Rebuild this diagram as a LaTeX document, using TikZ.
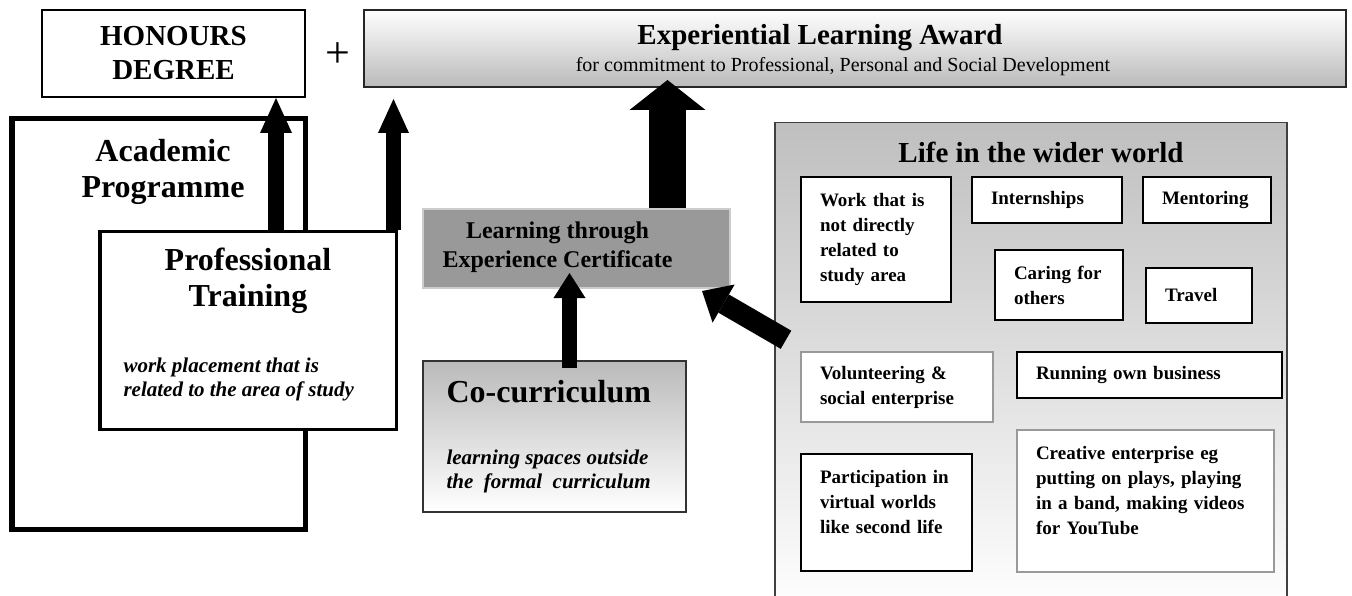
\documentclass[tikz,border=0pt]{standalone}
\usepackage{fontspec}
\setmainfont{Liberation Serif}
\usetikzlibrary{positioning,arrows.meta,calc}

\begin{document}
\begin{tikzpicture}[x=1pt,y=-1pt,
  box/.style={draw, line width=2pt, fill=white, inner sep=0pt, anchor=north west},
  item/.style={box, align=left, inner xsep=19pt, inner ysep=0pt, font=\fontsize{19}{25}\selectfont\bfseries},
  pale/.style={draw=black!40},
  big/.style={font=\fontsize{32}{36}\selectfont\bfseries, align=center},
  head/.style={font=\fontsize{29}{34}\selectfont\bfseries},
  note/.style={font=\fontsize{21}{24}\selectfont\bfseries\itshape, align=left, anchor=west},
  fatarrow/.style n args={3}{draw, line width=#1, -{Triangle[width=#2, length=#3, line width=0pt]}}
]
\useasboundingbox (0,0) rectangle (1352,596);

\node[box, minimum width=263pt, minimum height=87pt, head, align=center] at (41,9) (hon) {HONOURS\\ DEGREE};
\node[font=\fontsize{44}{44}\selectfont] at (338,55) (plus) {+};

\node[box, draw=black!85, top color=white, bottom color=black!27, minimum width=982pt, minimum height=77pt] at (363,9) (award) {};
\node[head, anchor=base] at (820,45) (awardtxt) {Experiential Learning Award};
\node[font=\fontsize{20}{24}\selectfont, anchor=base] at (843,72) (awardsub) {for commitment to Professional, Personal and Social Development};

\node[box, line width=5.5pt, fill=none, minimum width=293.5pt, minimum height=410.5pt] at (9,116) (acad) {};
\node[big] at (163,172) (acadtxt) {Academic\\ Programme};

\node[box, line width=3.5pt, minimum width=296.5pt, minimum height=197.5pt] at (98,230) (prof) {};
\node[big] at (248,281) (proftxt) {Professional\\ Training};
\node[note] at (120,379) (profnote) {work placement that is\\ related to the area of study};

\node[box, draw=black!20, fill=black!40, minimum width=307pt, minimum height=79pt] at (422,208) (cert) {};
\node[font=\fontsize{24}{29}\selectfont\bfseries, align=center] at (557.5,247.5) (certtxt) {Learning through\\ Experience Certificate};

\node[box, draw=black!80, top color=black!27, bottom color=white, minimum width=263pt, minimum height=151pt] at (422,360) (cocurr) {};
\node[big, anchor=west] at (443,392) (cocurrtxt) {Co-curriculum};
\node[note] at (443,471) (cocurrnote) {learning spaces outside\\ the~ formal~ curriculum};

\node[box, line width=1.5pt, draw=black!75, top color=black!25, bottom color=white, minimum width=512pt, minimum height=490pt] at (774,122) (life) {};
\node[head, anchor=base] at (1041,163) (lifetxt) {Life in the wider world};

\node[item, text width=112pt, minimum height=125pt] at (800,176) (work) {Work that is\\ not directly\\ related to\\ study area};
\node[item, text width=112pt, minimum height=46pt, right=19pt of work.north east, anchor=north west] (intern) {Internships};
\node[item, text width=90pt, minimum height=46pt, right=19pt of intern.north east, anchor=north west] (mentor) {Mentoring};
\node[item, text width=90pt, minimum height=70pt] at (994,249) (caring) {Caring for\\ others};
\node[item, text width=68pt, minimum height=55pt] at (1145,267) (travel) {Travel};
\node[item, pale, text width=154pt, minimum height=70pt] at (800,351) (volunt) {Volunteering \&\\ social enterprise};
\node[item, text width=227pt, minimum height=46pt] at (1016,351) (running) {Running own business};
\node[item, text width=133pt, minimum height=117pt, text depth=72pt] at (800,453) (partic) {Participation in\\ virtual worlds\\ like second life};
\node[item, pale, text width=219pt, minimum height=142pt, text depth=96pt] at (1016,429) (creative) {Creative enterprise eg\\ putting on plays, playing\\ in a band, making videos\\ for YouTube};

\coordinate (a1) at ([xshift=178pt]prof.north west);
\coordinate (a2) at ([xshift=-4.5pt]prof.north east);
\coordinate (a3) at ([xshift=91pt]cert.north);
\coordinate (a4) at ($(cocurr.north)+(15,8)$);
\coordinate (a5) at ($(life.west)+(12,-28)$);

\path
(a1) edge[fatarrow={16pt}{32pt}{35pt}] (a1 |- hon.south)
(a2) edge[fatarrow={15pt}{31pt}{34pt}] ($(a2 |- award.south)+(0,11)$)
(a3) edge[fatarrow={37pt}{76pt}{30pt}] ($(a3 |- award.south)+(0,-8)$)
(a4) edge[fatarrow={15pt}{32pt}{25pt}] ($(a4 |- cert.south)+(0,-16)$)
(a5) edge[fatarrow={21pt}{44pt}{25pt}] ($(cert.south east)+(-29,2)$)
;
\end{tikzpicture}
\end{document}
